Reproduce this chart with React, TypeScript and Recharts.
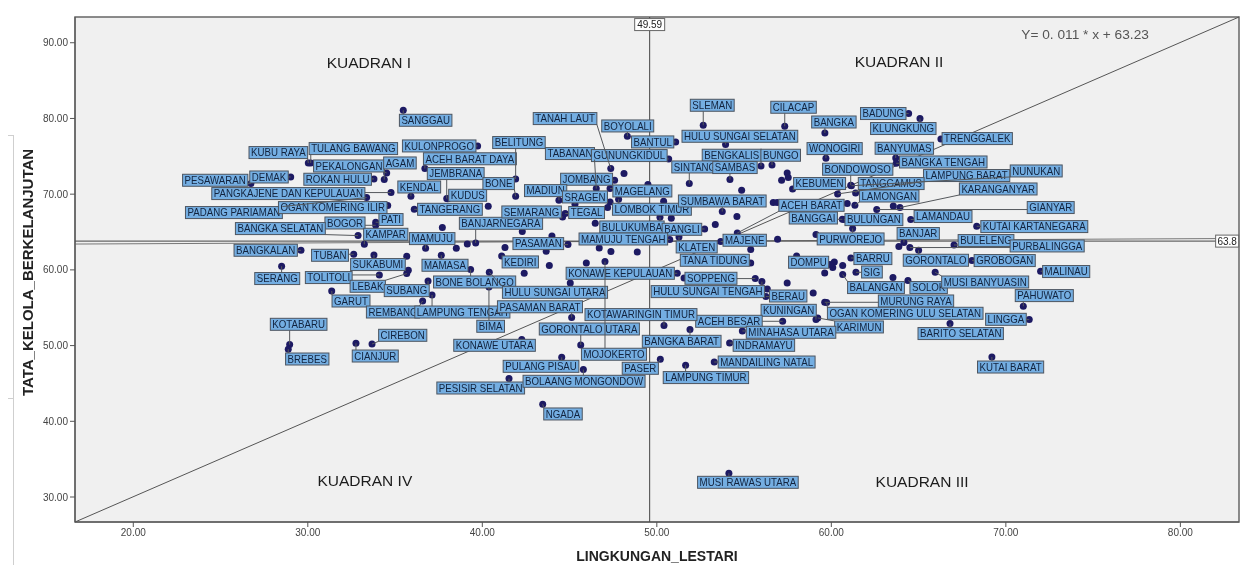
import { ScatterChart, Scatter, XAxis, YAxis, ReferenceLine, ReferenceArea, ReferenceDot } from 'recharts';

const xMin = 16.66;
const xMax = 83.36;
const yMin = 26.7;
const yMax = 93.4;
const xTicks = [20, 30, 40, 50, 60, 70, 80];
const yTicks = [30, 40, 50, 60, 70, 80, 90];
const meanX = 49.59;
const meanY = 63.8;
const fitSlope = 0.011;
const fitIntercept = 63.23;

const names = [
    'SANGGAU', 'KUBU RAYA', 'TULANG BAWANG', 'KULONPROGO', 'PEKALONGAN', 'AGAM', 'ACEH BARAT DAYA', 'JEMBRANA', 'DEMAK', 'PESAWARAN',
    'ROKAN HULU', 'PANGKAJENE DAN KEPULAUAN', 'PADANG PARIAMAN', 'OGAN KOMERING ILIR', 'KENDAL', 'KUDUS', 'TANGERANG', 'PATI', 'BOGOR', 'BANGKA SELATAN',
    'KAMPAR', 'MAMUJU', 'BANJARNEGARA', 'BANGKALAN', 'TUBAN', 'SLEMAN', 'CILACAP', 'TANAH LAUT', 'BOYOLALI', 'BANTUL',
    'HULU SUNGAI SELATAN', 'BELITUNG', 'TABANAN', 'GUNUNGKIDUL', 'BENGKALIS', 'BUNGO', 'SINTANG', 'SAMBAS', 'JOMBANG', 'BONE',
    'MADIUN', 'SRAGEN', 'MAGELANG', 'LOMBOK TIMUR', 'SEMARANG', 'TEGAL', 'SUMBAWA BARAT', 'BULUKUMBA', 'BANGLI', 'MAMUJU TENGAH',
    'PASAMAN', 'KLATEN', 'MAJENE', 'ACEH BARAT', 'TANA TIDUNG', 'BANGKA', 'BADUNG', 'KLUNGKUNG', 'TRENGGALEK', 'WONOGIRI',
    'BANYUMAS', 'BANGKA TENGAH', 'BONDOWOSO', 'NUNUKAN', 'LAMPUNG BARAT', 'TANGGAMUS', 'LAMONGAN', 'KARANGANYAR', 'GIANYAR', 'BANGGAI',
    'BULUNGAN', 'LAMANDAU', 'KUTAI KARTANEGARA', 'PURWOREJO', 'BANJAR', 'BULELENG', 'PURBALINGGA', 'BARRU', 'SIG', 'BALANGAN',
    'SOLOK', 'GORONTALO', 'GROBOGAN', 'MALINAU', 'MUSI BANYUASIN', 'PAHUWATO', 'LINGGA', 'MURUNG RAYA', 'OGAN KOMERING ULU SELATAN', 'KARIMUN',
    'BARITO SELATAN', 'KUTAI BARAT', 'SERANG', 'SUKABUMI', 'TOLITOLI', 'LEBAK', 'SUBANG', 'MAMASA', 'BONE BOLANGO', 'KEDIRI',
    'GARUT', 'REMBANG', 'LAMPUNG TENGAH', 'BIMA', 'PASAMAN BARAT', 'HULU SUNGAI UTARA', 'KOTABARU', 'BREBES', 'CIREBON', 'CIANJUR',
    'KONAWE UTARA', 'PULANG PISAU', 'PESISIR SELATAN', 'BOLAANG MONGONDOW', 'NGADA', 'GORONTALO UTARA', 'MOJOKERTO', 'KONAWE KEPULAUAN', 'SOPPENG', 'HULU SUNGAI TENGAH',
    'BERAU', 'KUNINGAN', 'ACEH BESAR', 'MINAHASA UTARA', 'KOTAWARINGIN TIMUR', 'BANGKA BARAT', 'INDRAMAYU', 'MANDAILING NATAL', 'PASER', 'LAMPUNG TIMUR',
    'MUSI RAWAS UTARA', 'DOMPU', 'KEBUMEN',
];

const lingkungan = [
    35.47, 30.03, 30.17, 39.73, 34.52, 34.38, 36.71, 37.96, 29.02, 26.74,
    33.79, 34.77, 33.37, 34.58, 35.91, 38.02, 36.1, 33.89, 33.89, 32.88,
    33.24, 36.75, 39.62, 29.61, 32.63, 52.66, 57.33, 47.36, 48.31, 51.08,
    53.94, 41.91, 46.53, 50.68, 55.97, 56.6, 51.86, 54.19, 47.58, 41.91,
    44.39, 45.31, 47.32, 47.81, 44.6, 44.75, 53.75, 50.18, 52.74, 50.74,
    44.91, 51.27, 53.66, 54.61, 55.38, 59.63, 64.43, 65.08, 66.28, 59.69,
    63.69, 63.72, 61.11, 61.15, 60.36, 61.39, 61.35, 63.93, 62.6, 60.63,
    60.72, 64.55, 68.33, 61.22, 64.16, 67.03, 64.5, 61.12, 61.41, 60.65,
    64.39, 65.0, 68.06, 71.99, 65.95, 71.0, 71.34, 59.62, 59.73, 59.22,
    66.8, 69.2, 28.5, 33.79, 34.1, 35.67, 36.89, 37.65, 39.33, 41.11,
    31.37, 36.58, 37.12, 40.38, 45.12, 40.4, 28.96, 28.88, 33.68, 32.76,
    42.26, 44.55, 41.53, 45.79, 43.46, 45.64, 47.03, 51.17, 55.64, 56.02,
    56.25, 59.12, 57.21, 54.9, 50.41, 51.9, 54.17, 53.29, 50.2, 51.65,
    54.13, 58.01, 57.78,
];

const tataKelola = [
    81.08, 74.12, 74.12, 76.37, 72.8, 71.93, 73.38, 69.42, 72.27, 71.4,
    72.01, 70.21, 69.55, 68.49, 69.72, 69.38, 68.0, 66.29, 65.89, 64.53,
    63.38, 62.85, 63.55, 62.59, 62.06, 79.1, 78.97, 73.38, 77.65, 76.9,
    76.55, 72.01, 70.74, 74.65, 73.73, 73.86, 71.4, 71.93, 71.84, 69.72,
    69.19, 68.67, 70.74, 69.33, 66.99, 67.44, 67.7, 66.95, 65.4, 64.0,
    63.34, 64.35, 63.74, 64.87, 60.91, 78.08, 80.65, 79.99, 77.29, 74.74,
    74.78, 74.08, 71.18, 71.11, 70.03, 70.16, 68.53, 68.23, 67.97, 66.68,
    66.64, 66.65, 65.76, 65.46, 63.61, 63.29, 62.95, 61.57, 59.68, 59.38,
    58.59, 62.59, 61.23, 59.82, 59.68, 55.19, 53.43, 55.72, 55.68, 53.65,
    52.91, 48.49, 60.48, 61.97, 59.33, 59.51, 58.53, 61.93, 60.04, 61.84,
    57.21, 55.89, 56.68, 57.74, 53.7, 59.68, 50.13, 49.51, 50.21, 50.3,
    50.79, 48.45, 45.64, 46.83, 42.25, 50.08, 61.1, 59.55, 58.85, 58.45,
    56.47, 53.43, 53.21, 51.93, 52.64, 52.11, 50.34, 47.83, 48.19, 47.4,
    33.13, 61.84, 70.69,
];

// points without a visible label
const plainLingkungan = [
    37.71, 35.67, 38.51, 39.14, 35.76, 40.34, 49.49, 50.39, 50.83, 53.35,
    54.59, 54.86, 56.67, 56.9, 46.47, 42.29, 43.99, 41.3, 43.66, 46.7,
    47.37, 48.88, 56.92, 55.38, 57.15, 57.47, 57.53, 47.32, 47.18, 48.12,
    60.91, 63.55, 59.12, 63.87, 60.17, 60.65, 60.08, 59.92, 59.62, 63.53,
    51.56, 45.96, 45.04, 43.84, 42.4, 56.33, 57.47, 58.96,
];
const plainTataKelola = [
    65.59, 61.8, 62.85, 63.42, 59.95, 68.4, 71.27, 69.06, 66.82, 65.98,
    67.04, 70.52, 68.89, 68.89, 66.16, 65.06, 64.48, 62.95, 62.46, 62.89,
    62.42, 62.36, 64.04, 62.68, 71.84, 72.8, 72.19, 68.97, 68.23, 72.72,
    68.76, 68.44, 64.66, 63.08, 61.04, 60.57, 60.3, 60.7, 59.59, 58.98,
    58.93, 60.91, 58.27, 60.57, 59.55, 57.48, 58.27, 56.95,
];

// label box centre relative to its point, in pixels, same order as names
const labelOffsets: [number, number][] = [
    [22.4, 10], [-30, -10.4], [42.6, -14.4], [-38.4, 0], [-37.7, -7], [15.7, -16.6], [45, -9.8], [9, -25], [-21.7, 0], [-35.7, -3.3],
    [-36.3, 0.3], [-102.7, 1], [-132.7, 15], [-55, 2], [8.3, -9.3], [19.9, -3.6], [35.7, 0], [15.3, -2.7], [-30.7, -2.3], [-77.7, -7],
    [21.4, -10], [6.6, -9.7], [25.3, -19.7], [-35.3, 0], [-23.7, 1], [9, -20], [8.8, -19], [-45.7, -50], [0.4, -10.3], [-23, 0],
    [14.3, -8.3], [3.3, -36.4], [-26.3, -35], [-39.4, -3.4], [-29.3, -10.7], [8.7, -9.7], [5.7, -16.6], [5, -12], [-28, -1], [-17, -12.7],
    [-13.3, -9.7], [10, -7.3], [32.3, 2.4], [33.3, 10], [-31, -5], [21.4, -1], [0, -10.6], [-28, 9.7], [-22.7, 0.3], [-46.4, -0.6],
    [-29.7, -1], [17.7, 10], [24, -1.3], [74.2, -27.7], [-35.9, -2.7], [9, -11], [-25.4, 0], [-16.7, 10], [36.3, -0.4], [8.7, -9.7],
    [8.6, -9.7], [47, -1.3], [7, -16], [184.8, -14.8], [129, -18.4], [35.6, -9.4], [34.3, -9.3], [98.3, -18.6], [174, -2], [-29, -1.3],
    [30, 0], [32.3, -3], [57.6, 0.3], [-2, 10.4], [14.3, -9], [32, -4.4], [137.3, -1.6], [22, 0.6], [16, -0.3], [33.3, 13],
    [20.7, 7], [17.3, 10], [32.7, 0], [25.6, 0.3], [50, 9.7], [21, -10.7], [-23.3, -0.3], [91.3, -1.3], [78.6, 10.7], [41.3, 9],
    [10.7, 10], [18.7, 10], [-4.4, 12.3], [4, 9.6], [-50.6, 2.6], [-39, 12.7], [-21.3, 9.6], [3.7, 10], [4, 12.4], [18.6, 6],
    [19.3, 10], [-29.7, 11], [30.3, 17], [1.7, 39.3], [-31.7, -10.8], [65.7, 20], [9, -20.3], [19, 9.7], [30.7, -8.7], [19.3, 12.7],
    [-27.2, 5.7], [-20.7, 9], [-28.3, 9.4], [0.7, 11.7], [20.3, 9.7], [8.6, -16], [9, 92.7], [-57, 0], [-44.3, -0.3], [-54, 10],
    [22.3, -0.6], [-27.3, -9.3], [-53.7, 0], [48.7, 1.3], [-23, -11], [-8.3, 11.7], [34.3, 2.3], [52.4, 0], [-20, 9], [20.3, 12.3],
    [19, 9], [12, 6.3], [27, -5.4],
];

const labeled = names.map((name, i) => ({ name, x: lingkungan[i], y: tataKelola[i], offset: labelOffsets[i] }));
const plain = plainLingkungan.map((x, i) => ({ x, y: plainTataKelola[i] }));

const FONT = '"Liberation Sans", Arial, sans-serif';
const BOX_H = 12;
const ctx = document.createElement('canvas').getContext('2d');

function textWidth(text: string) {
    if (!ctx) return text.length * 6;
    ctx.font = `10px ${FONT}`;
    return ctx.measureText(text).width * 0.97;
}

function Dot(props: any) {
    return <circle cx={props.cx} cy={props.cy} r={3.5} fill="#1d1a63" />;
}

function LabelBox(props: any) {
    const { cx, cy, payload } = props;
    const w = textWidth(payload.name);
    const bx = cx + payload.offset[0];
    const by = cy + payload.offset[1];
    return (
        <g>
            <rect x={bx - w / 2 - 2} y={by - BOX_H / 2} width={w + 4} height={BOX_H} fill="#74aee2" stroke="#4d5560" strokeWidth={1} />
            <text
                x={bx}
                y={by + 3.8}
                textAnchor="middle"
                fontFamily={FONT}
                fontSize={10.5}
                fill="#12233e"
                textLength={w}
                lengthAdjust="spacingAndGlyphs"
            >
                {payload.name}
            </text>
        </g>
    );
}

function Leader(props: any) {
    const { cx, cy, payload } = props;
    const w = textWidth(payload.name) + 4;
    const bx = cx + payload.offset[0];
    const by = cy + payload.offset[1];
    const ex = Math.max(bx - w / 2, Math.min(cx, bx + w / 2));
    const ey = Math.max(by - BOX_H / 2, Math.min(cy, by + BOX_H / 2));
    return <line x1={cx} y1={cy} x2={ex} y2={ey} stroke="#55585c" strokeWidth={1} />;
}

function ValueTag(props: any) {
    const { cx, cy, text, w } = props;
    return (
        <g>
            <rect x={cx - w / 2} y={cy - 6} width={w} height={12} fill="#fff" stroke="#666" />
            <text x={cx} y={cy + 3.5} textAnchor="middle" fontFamily={FONT} fontSize={10} fill="#222">
                {text}
            </text>
        </g>
    );
}

const quadrants = [
    { text: 'KUADRAN I', x: 33.5, y: 87.4 },
    { text: 'KUADRAN II', x: 63.88, y: 87.5 },
    { text: 'KUADRAN IV', x: 33.27, y: 32.2 },
    { text: 'KUADRAN III', x: 65.2, y: 32.1 },
];

export default function App() {
    return (
        <div style={{ position: 'absolute', left: 0, top: 0, width: 1248, height: 565, background: '#fff', filter: 'blur(0.35px)' }}>
            <div style={{ position: 'absolute', left: 13, top: 135, width: 1, height: 430, background: '#cfcfcf' }} />
            <div style={{ position: 'absolute', left: 8, top: 135, width: 5, height: 1, background: '#cfcfcf' }} />
            <div style={{ position: 'absolute', left: 8, top: 398, width: 5, height: 1, background: '#cfcfcf' }} />
            <ScatterChart width={1248} height={565} margin={{ top: 17, right: 9, bottom: 0, left: 0 }}>
                <XAxis
                    type="number"
                    dataKey="x"
                    domain={[xMin, xMax]}
                    ticks={xTicks}
                    tickFormatter={(v: number) => v.toFixed(2)}
                    height={43}
                    stroke="#555"
                    tick={{ fontSize: 10, fill: '#444', fontFamily: FONT }}
                    tickSize={5}
                    allowDataOverflow
                    label={{ value: 'LINGKUNGAN_LESTARI', position: 'insideBottom', offset: 4, fontSize: 14, fontWeight: 700, fill: '#222', fontFamily: FONT }}
                />
                <YAxis
                    type="number"
                    dataKey="y"
                    domain={[yMin, yMax]}
                    ticks={yTicks}
                    tickFormatter={(v: number) => v.toFixed(2)}
                    width={75}
                    stroke="#555"
                    tick={{ fontSize: 10, fill: '#444', fontFamily: FONT }}
                    tickSize={5}
                    allowDataOverflow
                    label={{ value: 'TATA_KELOLA_BERKELANJUTAN', angle: -90, position: 'center', dx: -10, dy: 3, fontSize: 15, fontWeight: 700, fill: '#222', fontFamily: FONT }}
                />
                <ReferenceArea x1={xMin} x2={xMax} y1={yMin} y2={yMax} fill="#f0f0f0" fillOpacity={1} stroke="#666" strokeWidth={1.5} />
                <Scatter data={plain} shape={Dot} isAnimationActive={false} />
                <Scatter data={labeled} shape={Dot} isAnimationActive={false} />
                <Scatter data={labeled} shape={LabelBox} isAnimationActive={false} />
                <Scatter data={labeled} shape={Leader} isAnimationActive={false} />
                <ReferenceLine
                    segment={[{ x: xMin, y: yMin }, { x: xMax, y: yMax }]}
                    stroke="#555"
                />
                <ReferenceLine
                    segment={[
                        { x: xMin, y: fitSlope * xMin + fitIntercept },
                        { x: xMax, y: fitSlope * xMax + fitIntercept },
                    ]}
                    stroke="#777"
                />
                <ReferenceLine y={meanY} stroke="#444" />
                <ReferenceLine x={meanX} stroke="#444" />
                <ReferenceDot x={meanX} y={92.4} r={0} shape={(p: any) => <ValueTag {...p} text="49.59" w={30} />} />
                <ReferenceDot x={82.68} y={meanY} r={0} shape={(p: any) => <ValueTag {...p} text="63.8" w={23} />} />
                {quadrants.map((q) => (
                    <ReferenceDot
                        key={q.text}
                        x={q.x}
                        y={q.y}
                        r={0}
                        label={{ value: q.text, position: 'center', fontSize: 15.5, fill: '#1c1c1c', fontFamily: FONT }}
                    />
                ))}
                <ReferenceDot
                    x={74.54}
                    y={91.1}
                    r={0}
                    label={{ value: 'Y= 0. 011 * x + 63.23', position: 'center', fontSize: 13.7, fill: '#555', fontFamily: FONT }}
                />
            </ScatterChart>
        </div>
    );
}
